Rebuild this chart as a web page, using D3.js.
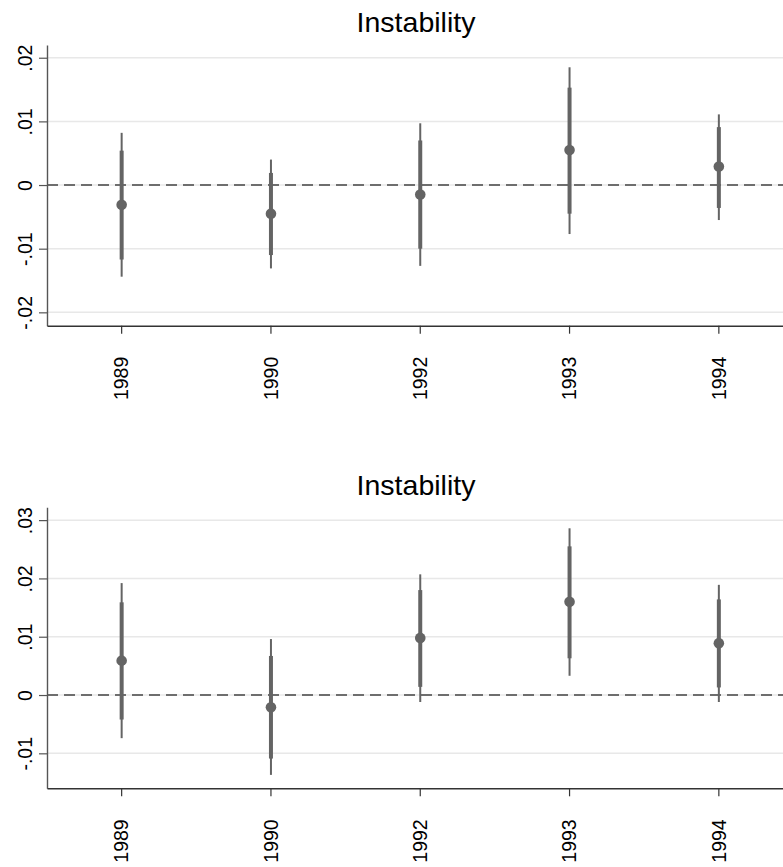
<!DOCTYPE html>
<html>
<head>
<meta charset="utf-8">
<script src="https://cdn.jsdelivr.net/npm/d3@7"></script>
<style>
  html, body { margin: 0; padding: 0; background: #fff; }
  svg { display: block; font-family: "Liberation Sans", Arial, Helvetica, sans-serif; }
</style>
</head>
<body>
<svg id="chart" width="783" height="867"></svg>
<script>
// ---- Data ----
const years = ["1989", "1990", "1992", "1993", "1994"];
const titleText = "Instability";

// Panel 1 (top)
const coefTop    = [-0.0031, -0.0045, -0.0015, 0.0055, 0.0029];
const thickLoTop = [-0.0117, -0.0110, -0.0100, -0.0045, -0.0036];
const thickHiTop = [ 0.0054,  0.0019,  0.0070,  0.0153,  0.0091];
const thinLoTop  = [-0.0144, -0.0131, -0.0127, -0.0077, -0.0055];
const thinHiTop  = [ 0.0082,  0.0040,  0.0097,  0.0185,  0.0111];
const yTicksTop  = [-0.02, -0.01, 0, 0.01, 0.02];
const yLabelsTop = ["-.02", "-.01", "0", ".01", ".02"];
const yDomainTop = [-0.0221, 0.0220];

// Panel 2 (bottom)
const coefBot    = [ 0.0059, -0.0021, 0.0098, 0.0160, 0.0089];
const thickLoBot = [-0.0042, -0.0109, 0.0014, 0.0063, 0.0013];
const thickHiBot = [ 0.0159,  0.0067, 0.0180, 0.0255, 0.0164];
const thinLoBot  = [-0.0074, -0.0137, -0.0012, 0.0033, -0.0012];
const thinHiBot  = [ 0.0192,  0.0096, 0.0207, 0.0286, 0.0189];
const yTicksBot  = [-0.01, 0, 0.01, 0.02, 0.03];
const yLabelsBot = ["-.01", "0", ".01", ".02", ".03"];
const yDomainBot = [-0.0160, 0.0322];

// ---- Layout ----
const svg = d3.select("#chart");
const W = 783;
const left = 47, right = 793.5;
const markColor = "#646464";

const panels = [
  { top: 45, bottom: 325.7, titleY: 32, coef: coefTop, thickLo: thickLoTop, thickHi: thickHiTop,
    thinLo: thinLoTop, thinHi: thinHiTop, ticks: yTicksTop, labels: yLabelsTop, domain: yDomainTop },
  { top: 507.3, bottom: 788.3, titleY: 495, coef: coefBot, thickLo: thickLoBot, thickHi: thickHiBot,
    thinLo: thinLoBot, thinHi: thinHiBot, ticks: yTicksBot, labels: yLabelsBot, domain: yDomainBot }
];

const x = d3.scaleBand().domain(years).range([left, right]).paddingInner(0).paddingOuter(0);
const cx = d => x(d) + x.bandwidth() / 2;

panels.forEach(p => {
  const g = svg.append("g");
  const y = d3.scaleLinear().domain(p.domain).range([p.bottom, p.top]);

  // gridlines
  g.selectAll("line.grid").data(p.ticks).enter().append("line")
    .attr("x1", left).attr("x2", W)
    .attr("y1", d => y(d)).attr("y2", d => y(d))
    .attr("stroke", "#e8e8e8").attr("stroke-width", 1.5);

  // zero reference line
  g.append("line")
    .attr("x1", left).attr("x2", W)
    .attr("y1", y(0)).attr("y2", y(0))
    .attr("stroke", "#444").attr("stroke-width", 1.6)
    .attr("stroke-dasharray", "11,6");

  // thin CI
  g.selectAll("line.thin").data(years).enter().append("line")
    .attr("x1", cx).attr("x2", cx)
    .attr("y1", (d, i) => y(p.thinLo[i])).attr("y2", (d, i) => y(p.thinHi[i]))
    .attr("stroke", markColor).attr("stroke-width", 2);

  // thick CI
  g.selectAll("line.thick").data(years).enter().append("line")
    .attr("x1", cx).attr("x2", cx)
    .attr("y1", (d, i) => y(p.thickLo[i])).attr("y2", (d, i) => y(p.thickHi[i]))
    .attr("stroke", markColor).attr("stroke-width", 4);

  // points
  g.selectAll("circle").data(years).enter().append("circle")
    .attr("cx", cx).attr("cy", (d, i) => y(p.coef[i]))
    .attr("r", 5.3).attr("fill", markColor);

  // y axis
  const ya = g.append("g").attr("transform", `translate(${left},0)`)
    .call(d3.axisLeft(y).tickValues(p.ticks).tickSize(8).tickSizeOuter(0)
      .tickFormat((d, i) => p.labels[i]));
  ya.select(".domain").attr("stroke", "#555").attr("stroke-width", 1.4);
  ya.selectAll(".tick line").attr("stroke", "#555").attr("stroke-width", 1.2);
  ya.selectAll(".tick text")
    .attr("x", 0).attr("y", 0).attr("dy", 0)
    .attr("text-anchor", "middle")
    .attr("transform", "translate(-15,0) rotate(-90)")
    .attr("font-size", "19.5px").attr("fill", "#000")
    .attr("font-family", "'Liberation Sans', Arial, Helvetica, sans-serif");

  // x axis
  const xa = g.append("g").attr("transform", `translate(0,${p.bottom})`)
    .call(d3.axisBottom(x).tickSize(8).tickSizeOuter(0));
  xa.select(".domain").attr("stroke", "#333").attr("stroke-width", 1.4);
  xa.selectAll(".tick line").attr("stroke", "#333").attr("stroke-width", 1.2);
  xa.selectAll(".tick text")
    .attr("x", 0).attr("y", 0).attr("dy", "0.35em")
    .attr("text-anchor", "end")
    .attr("transform", "translate(0,31) rotate(-90)")
    .attr("font-size", "19.5px").attr("fill", "#000")
    .attr("font-family", "'Liberation Sans', Arial, Helvetica, sans-serif");

  // title
  g.append("text")
    .attr("x", 416).attr("y", p.titleY)
    .attr("text-anchor", "middle")
    .attr("font-size", "28.5px").attr("fill", "#000")
    .text(titleText);
});
</script>
</body>
</html>
